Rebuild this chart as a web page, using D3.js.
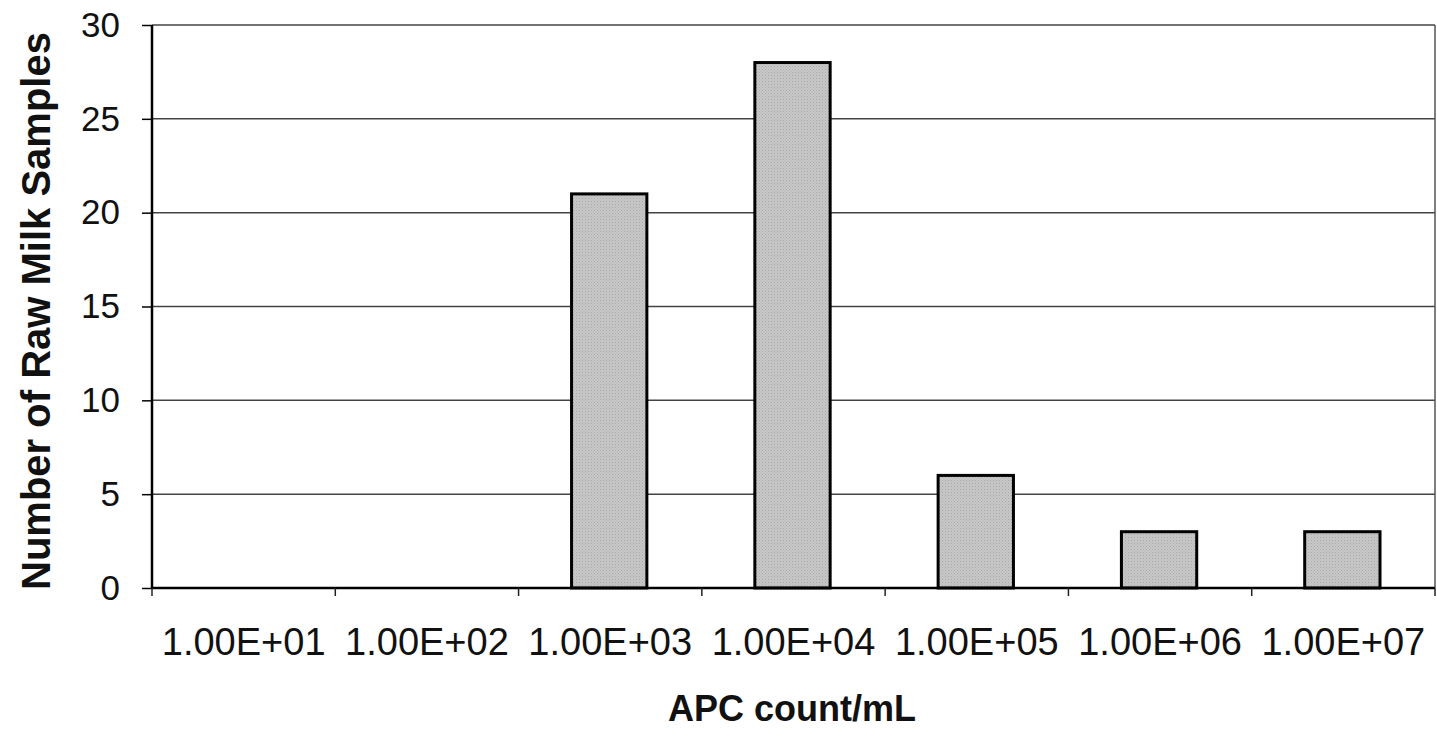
<!DOCTYPE html>
<html><head><meta charset="utf-8">
<script src="https://cdn.jsdelivr.net/npm/d3@7"></script>
<style>body{margin:0;background:#fff;} svg{display:block;}</style>
</head><body>
<svg id="c" width="1437" height="731"></svg>
<script>
const categories = ["1.00E+01","1.00E+02","1.00E+03","1.00E+04","1.00E+05","1.00E+06","1.00E+07"];
const values = [0,0,21,28,6,3,3];
const yTicks = [0,5,10,15,20,25,30];

const svg = d3.select("#c");
const m = {left:152, right:1435, top:25, bottom:588};
const x = d3.scaleBand().domain(categories).range([m.left, m.right]).paddingInner(0.6).paddingOuter(0.3);
const xb = d3.scaleBand().domain(categories).range([m.left, m.right]);
const y = d3.scaleLinear().domain([0,30]).range([m.bottom, m.top]);
const font = "Arial, 'Liberation Sans', sans-serif";

// gridlines
svg.append("g").selectAll("line").data(yTicks.filter(d=>d>0)).join("line")
  .attr("x1", m.left).attr("x2", m.right)
  .attr("y1", d=>y(d)).attr("y2", d=>y(d))
  .attr("stroke", "#444").attr("stroke-width", 1.5);
// right border
svg.append("line").attr("x1", m.right).attr("x2", m.right).attr("y1", m.top).attr("y2", m.bottom)
  .attr("stroke","#555").attr("stroke-width",1.5);

// pattern for bars
const defs = svg.append("defs");
const pat = defs.append("pattern").attr("id","dots").attr("width",3).attr("height",3).attr("patternUnits","userSpaceOnUse");
pat.append("rect").attr("width",3).attr("height",3).attr("fill","#c8c8c8");
pat.append("rect").attr("width",1).attr("height",1).attr("fill","#a8a8a8");
pat.append("rect").attr("x",1.5).attr("y",1.5).attr("width",1).attr("height",1).attr("fill","#b0b0b0");

// bars
svg.append("g").selectAll("rect").data(categories.map((c,i)=>({c,v:values[i]})).filter(d=>d.v>0)).join("rect")
  .attr("x", d=>x(d.c)-2).attr("width", x.bandwidth()+2)
  .attr("y", d=>y(d.v)).attr("height", d=>y(0)-y(d.v))
  .attr("fill","url(#dots)").attr("stroke","#000").attr("stroke-width",3);

// y axis
const ya = svg.append("g").attr("transform",`translate(${m.left},0)`)
  .call(d3.axisLeft(y).tickValues(yTicks).tickSize(10).tickPadding(22));
ya.select(".domain").attr("stroke","#000").attr("stroke-width",2.5).attr("d",`M0,${m.top}V${m.bottom}`);
ya.selectAll(".tick line").attr("stroke","#000").attr("stroke-width",1.5);
ya.selectAll(".tick text").attr("font-family",font).attr("font-size",35).attr("fill","#111");

// x axis
const xa = svg.append("g").attr("transform",`translate(0,${m.bottom})`)
  .call(d3.axisBottom(xb).tickSize(0).tickPadding(40));
xa.select(".domain").attr("stroke","#000").attr("stroke-width",2.5).attr("d",`M${m.left},0H${m.right}`);
xa.selectAll(".tick text").attr("font-family",font).attr("font-size",38).attr("fill","#111");
// tick marks at category boundaries
svg.append("g").selectAll("line").data(categories.concat(["end"])).join("line")
  .attr("x1",(d,i)=> i<categories.length ? xb(d) : m.right)
  .attr("x2",(d,i)=> i<categories.length ? xb(d) : m.right)
  .attr("y1", m.bottom).attr("y2", m.bottom+8)
  .attr("stroke","#222").attr("stroke-width",1.5);

// axis titles
svg.append("text").attr("x", 792).attr("y", 721)
  .attr("text-anchor","middle").attr("font-family",font).attr("font-weight","bold")
  .attr("font-size",36).attr("fill","#111").text("APC count/mL");
svg.append("text").attr("transform",`translate(50,311) rotate(-90)`)
  .attr("text-anchor","middle").attr("font-family",font).attr("font-weight","bold")
  .attr("font-size",40).attr("fill","#111").text("Number of Raw Milk Samples");
</script>
</body></html>
